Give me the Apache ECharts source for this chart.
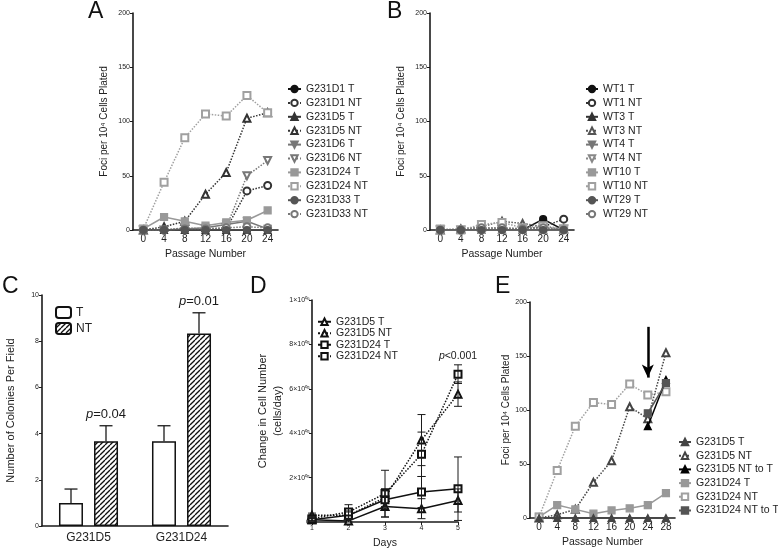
<!DOCTYPE html>
<html><head><meta charset="utf-8">
<script src="https://cdn.jsdelivr.net/npm/echarts@6/dist/echarts.min.js"></script>
<style>html,body{margin:0;padding:0;background:#fff}#c{width:778px;height:550px}</style>
</head><body><div id="c"></div><script>
// ---------- DATA ----------
const passA = ['0','4','8','12','16','20','24'];
const passE = ['0','4','8','12','16','20','24','28'];

// Panel A
const a_G231D1_T   = [0,0,0,0,0,0,0];
const a_G231D1_NT  = [0,0,1,0,1,36,41];
const a_G231D5_T   = [0,0,0,0,0,0,0];
const a_G231D5_NT  = [0,3,8,33,53,103,108];
const a_G231D6_T   = [0,0,1,2,5,8,1];
const a_G231D6_NT  = [0,0,2,1,2,50,64];
const a_G231D24_T  = [1,12,8,4,7,9,18];
const a_G231D24_NT = [1,44,85,107,105,124,108];
const a_G231D33_T  = [0,0,0,0,0,0,0];
const a_G231D33_NT = [0,0,1,1,2,3,2];

// Panel B
const b_WT1_T   = [0,0,0,0,0,10,0];
const b_WT1_NT  = [0,0,1,1,1,3,10];
const b_WT3_T   = [0,0,0,0,0,0,0];
const b_WT3_NT  = [0,1,3,8,6,3,1];
const b_WT4_T   = [0,0,0,0,0,0,0];
const b_WT4_NT  = [0,0,1,2,1,2,1];
const b_WT10_T  = [0,0,0,0,0,0,0];
const b_WT10_NT = [1,0,5,7,2,4,1];
const b_WT29_T  = [0,0,0,0,0,0,0];
const b_WT29_NT = [0,0,2,2,1,2,0];

// Panel C
const cCats = ['G231D5','G231D24'];
const cT = [1.0, 3.67];
const cTErr = [0.6, 0.67];
const cNT = [3.67, 8.33];
const cNTErr = [0.67, 0.9];
const cNTNotes = ['p=0.04', 'p=0.01'];

// Panel D
const dDays = [1,2,3,4,5];
const d_D5_T = [10000, 5000, 70000, 60000, 97000];
const d_D5_T_err = [5000, 10000, 48000, 45000, 52000];
const d_D5_NT = [30000, 30000, 110000, 369000, 576000];
const d_D5_NT_err = [10000, 15000, 40000, 115000, 55000];
const d_D24_T = [10000, 30000, 100000, 135000, 150000];
const d_D24_T_err = [5000, 20000, 40000, 70000, 143000];
const d_D24_NT = [15000, 45000, 128000, 305000, 666000];
const d_D24_NT_err = [10000, 33000, 105000, 100000, 42000];
const dNotes = ['', '', '', '', 'p<0.001'];

// Panel E
const e_G231D5_T = [0,0,0,0,0,0,0,0];
const e_G231D5_NT = [0,3,8,33,53,103,92,153];
const e_G231D5_NTtoT = [null,null,null,null,null,null,85,128];
const e_G231D24_T = [1,12,8,4,7,9,12,23];
const e_G231D24_NT = [1,44,85,107,105,124,114,117];
const e_G231D24_NTtoT = [null,null,null,null,null,null,97,125];
const eArrow = { at: '24', from: 177, to: 130 };

// ---------- STYLE ----------
const FONT = "'Liberation Sans', Arial, Helvetica, sans-serif";
const INK = '#1b1b1b';

function lineS(name, data, gi, sym, color, dash, rot, z) {
  return {
    type: 'line', name, data, xAxisIndex: gi, yAxisIndex: gi,
    symbol: sym, symbolSize: 7, symbolRotate: rot || 0, z: z || 2,
    lineStyle: { color, width: 1.5, type: dash ? 'dotted' : 'solid' },
    itemStyle: { color, borderColor: color, borderWidth: 1.2 },
    emphasis: { disabled: true }, connectNulls: false
  };
}

function errSeries(gi, vals, errs, opts) {
  const o = opts || {};
  return {
    type: 'custom', xAxisIndex: gi, yAxisIndex: gi, z: 5, silent: true,
    data: vals.map((v, i) => [o.xs ? o.xs[i] : i, v, errs[i]]),
    renderItem: function (params, api) {
      const x = api.value(0), v = api.value(1), e = api.value(2);
      const dx = o.dx || 0, hw = o.cap / 2;
      const top = api.coord([x, v + e]);
      const bot = api.coord([x, o.upOnly ? v : Math.max(0, v - e)]);
      const cx = top[0] + dx;
      const st = { stroke: INK, lineWidth: o.lw || 1 };
      const ch = [
        { type: 'line', shape: { x1: cx, y1: top[1], x2: cx, y2: bot[1] }, style: st },
        { type: 'line', shape: { x1: cx - hw, y1: top[1], x2: cx + hw, y2: top[1] }, style: st }
      ];
      if (!o.upOnly) ch.push({ type: 'line', shape: { x1: cx - hw, y1: bot[1], x2: cx + hw, y2: bot[1] }, style: st });
      const note = o.notes ? o.notes[params.dataIndex] : '';
      if (note) {
        ch.push({ type: 'text', style: {
          text: '{i|p}' + note.slice(1), x: cx, y: top[1] - o.noteGap,
          align: 'center', verticalAlign: 'bottom', fill: INK,
          fontSize: o.noteSize, fontFamily: FONT,
          rich: { i: { fontStyle: 'italic', fontSize: o.noteSize, fontFamily: FONT, fill: INK } }
        } });
      }
      return { type: 'group', children: ch };
    }
  };
}

// hatch pattern for NT bars
const pc = document.createElement('canvas');
pc.width = 5; pc.height = 5;
(function () {
  const c = pc.getContext('2d');
  c.fillStyle = '#fff'; c.fillRect(0, 0, 5, 5);
  c.strokeStyle = '#111'; c.lineWidth = 1.3;
  for (const o of [-5, 0, 5]) { c.beginPath(); c.moveTo(o, 5); c.lineTo(o + 5, 0); c.stroke(); }
})();
const hatch = { image: pc, repeat: 'repeat' };

function axisCommon(extra) {
  const base = {
    axisLine: { show: true, onZero: false, lineStyle: { color: INK, width: 1.6 } },
    axisTick: { show: true, length: 3, lineStyle: { color: INK, width: 1 } },
    splitLine: { show: false },
    axisLabel: { color: '#222', fontFamily: FONT },
    nameTextStyle: { color: '#222', fontFamily: FONT },
    nameLocation: 'middle'
  };
  for (const k in extra) {
    if (typeof extra[k] === 'object' && !Array.isArray(extra[k]) && base[k]) base[k] = Object.assign({}, base[k], extra[k]);
    else base[k] = extra[k];
  }
  return base;
}

const sup = { '0':'⁰','1':'¹','2':'²','3':'³','4':'⁴','5':'⁵','6':'⁶','7':'⁷','8':'⁸','9':'⁹' };
function sciLabel(v) {
  if (v === 0) return '0';
  const ex = Math.floor(Math.log10(v) + 1e-9);
  const m = Math.round(v / Math.pow(10, ex));
  const es = String(ex).padStart(2, '0').split('').map(c => sup[c]).join('');
  return m + '×10' + es;
}

const legText = { fontSize: 10.5, fontFamily: FONT, color: '#222', lineHeight: 12 };
const strip = n => n.replace(/#.*/, '');

const series = [
  // Panel A
  lineS('G231D1 T', a_G231D1_T, 0, 'circle', '#111', false),
  lineS('G231D1 NT', a_G231D1_NT, 0, 'emptyCircle', '#333', true),
  lineS('G231D5 T', a_G231D5_T, 0, 'triangle', '#333', false),
  lineS('G231D5 NT', a_G231D5_NT, 0, 'emptyTriangle', '#333', true),
  lineS('G231D6 T', a_G231D6_T, 0, 'triangle', '#777', false, 180),
  lineS('G231D6 NT', a_G231D6_NT, 0, 'emptyTriangle', '#777', true, 180),
  lineS('G231D24 T', a_G231D24_T, 0, 'rect', '#999', false),
  lineS('G231D24 NT', a_G231D24_NT, 0, 'emptyRect', '#a0a0a0', true),
  lineS('G231D33 T', a_G231D33_T, 0, 'circle', '#555', false, 0, 4),
  lineS('G231D33 NT', a_G231D33_NT, 0, 'emptyCircle', '#777', true),
  // Panel B
  lineS('WT1 T#B', b_WT1_T, 1, 'circle', '#111', false),
  lineS('WT1 NT#B', b_WT1_NT, 1, 'emptyCircle', '#333', true),
  lineS('WT3 T#B', b_WT3_T, 1, 'triangle', '#333', false),
  lineS('WT3 NT#B', b_WT3_NT, 1, 'emptyTriangle', '#555', true),
  lineS('WT4 T#B', b_WT4_T, 1, 'triangle', '#777', false, 180),
  lineS('WT4 NT#B', b_WT4_NT, 1, 'emptyTriangle', '#888', true, 180),
  lineS('WT10 T#B', b_WT10_T, 1, 'rect', '#999', false),
  lineS('WT10 NT#B', b_WT10_NT, 1, 'emptyRect', '#a0a0a0', true),
  lineS('WT29 T#B', b_WT29_T, 1, 'circle', '#555', false, 0, 4),
  lineS('WT29 NT#B', b_WT29_NT, 1, 'emptyCircle', '#777', true),
  // Panel C
  { type: 'bar', name: 'T', data: cT, xAxisIndex: 2, yAxisIndex: 2, barWidth: 24, barGap: '46%',
    itemStyle: { color: '#fff', borderColor: '#111', borderWidth: 1.5 }, emphasis: { disabled: true } },
  { type: 'bar', name: 'NT', data: cNT, xAxisIndex: 2, yAxisIndex: 2, barWidth: 24, barGap: '46%',
    itemStyle: { color: hatch, borderColor: '#111', borderWidth: 1.5 }, emphasis: { disabled: true } },
  errSeries(2, cT, cTErr, { dx: -17.5, cap: 13, upOnly: true, lw: 1.3 }),
  errSeries(2, cNT, cNTErr, { dx: 17.5, cap: 13, upOnly: true, lw: 1.3, notes: cNTNotes, noteGap: 5, noteSize: 13 }),
  // Panel D
  lineS('G231D5 T#D', dDays.map((d, i) => [d, d_D5_T[i]]), 3, 'emptyTriangle', '#111', false),
  lineS('G231D5 NT#D', dDays.map((d, i) => [d, d_D5_NT[i]]), 3, 'emptyTriangle', '#111', true),
  lineS('G231D24 T#D', dDays.map((d, i) => [d, d_D24_T[i]]), 3, 'emptyRect', '#111', false),
  lineS('G231D24 NT#D', dDays.map((d, i) => [d, d_D24_NT[i]]), 3, 'emptyRect', '#111', true),
  errSeries(3, d_D5_T, d_D5_T_err, { xs: dDays, cap: 8 }),
  errSeries(3, d_D5_NT, d_D5_NT_err, { xs: dDays, cap: 8 }),
  errSeries(3, d_D24_T, d_D24_T_err, { xs: dDays, cap: 8 }),
  errSeries(3, d_D24_NT, d_D24_NT_err, { xs: dDays, cap: 8, notes: dNotes, noteGap: 3, noteSize: 10.5 }),
  // Panel E
  lineS('G231D5 T#E', e_G231D5_T, 4, 'triangle', '#444', false, 0, 4),
  lineS('G231D5 NT#E', e_G231D5_NT, 4, 'emptyTriangle', '#444', true),
  Object.assign(lineS('G231D5 NT to T#E', e_G231D5_NTtoT, 4, 'triangle', '#000', false, 0, 3), {
    markLine: { silent: true, symbol: ['none', 'arrow'], symbolSize: [9, 13],
      lineStyle: { color: '#000', width: 2.5, type: 'solid' }, label: { show: false },
      data: [[{ coord: [eArrow.at, eArrow.from] }, { coord: [eArrow.at, eArrow.to] }]] }
  }),
  lineS('G231D24 T#E', e_G231D24_T, 4, 'rect', '#999', false),
  lineS('G231D24 NT#E', e_G231D24_NT, 4, 'emptyRect', '#a0a0a0', true),
  lineS('G231D24 NT to T#E', e_G231D24_NTtoT, 4, 'rect', '#555', false, 0, 3)
];

const fociName = 'Foci per 10⁴ Cells Plated';

const option = {
  animation: false,
  backgroundColor: '#fff',
  textStyle: { fontFamily: FONT },
  grid: [
    { left: 133, top: 13, width: 145, height: 217 },
    { left: 430, top: 13, width: 144, height: 217 },
    { left: 42, top: 295, width: 186, height: 231 },
    { left: 312, top: 300, width: 146, height: 222 },
    { left: 530, top: 302, width: 145, height: 216 }
  ],
  xAxis: [
    axisCommon({ gridIndex: 0, type: 'category', data: passA, boundaryGap: true, name: 'Passage Number', nameGap: 19,
      nameTextStyle: { fontSize: 10.5 }, axisLabel: { fontSize: 10, margin: 4 }, axisTick: { alignWithLabel: true } }),
    axisCommon({ gridIndex: 1, type: 'category', data: passA, boundaryGap: true, name: 'Passage Number', nameGap: 19,
      nameTextStyle: { fontSize: 10.5 }, axisLabel: { fontSize: 10, margin: 4 }, axisTick: { alignWithLabel: true } }),
    axisCommon({ gridIndex: 2, type: 'category', data: cCats, boundaryGap: true,
      axisLabel: { fontSize: 12, margin: 6 }, axisTick: { show: false } }),
    axisCommon({ gridIndex: 3, type: 'value', min: 1, max: 5, interval: 1, name: 'Days', nameGap: 16,
      nameTextStyle: { fontSize: 10.5 }, axisLabel: { fontSize: 7, margin: 3 } }),
    axisCommon({ gridIndex: 4, type: 'category', data: passE, boundaryGap: true, name: 'Passage Number', nameGap: 19,
      nameTextStyle: { fontSize: 10.5 }, axisLabel: { fontSize: 10, margin: 4 }, axisTick: { alignWithLabel: true } })
  ],
  yAxis: [
    axisCommon({ gridIndex: 0, type: 'value', min: 0, max: 200, interval: 50, name: fociName, nameGap: 24,
      nameTextStyle: { fontSize: 10 }, axisLabel: { fontSize: 7, margin: 3 } }),
    axisCommon({ gridIndex: 1, type: 'value', min: 0, max: 200, interval: 50, name: fociName, nameGap: 24,
      nameTextStyle: { fontSize: 10 }, axisLabel: { fontSize: 7, margin: 3 } }),
    axisCommon({ gridIndex: 2, type: 'value', min: 0, max: 10, interval: 2, name: 'Number of Colonies Per Field', nameGap: 26,
      nameTextStyle: { fontSize: 11 }, axisLabel: { fontSize: 7, margin: 3 } }),
    axisCommon({ gridIndex: 3, type: 'value', min: 0, max: 1000000, interval: 200000,
      name: 'Change in Cell Number\n(cells/day)', nameGap: 27,
      nameTextStyle: { fontSize: 11, lineHeight: 15 }, axisLabel: { fontSize: 7, margin: 2, formatter: sciLabel } }),
    axisCommon({ gridIndex: 4, type: 'value', min: 0, max: 200, interval: 50, name: fociName, nameGap: 18,
      nameTextStyle: { fontSize: 10 }, axisLabel: { fontSize: 7, margin: 3 } })
  ],
  legend: [
    { orient: 'vertical', left: 287, top: 83, padding: 0, itemWidth: 13, itemHeight: 8, itemGap: 1.9, formatter: strip,
      textStyle: legText, selectedMode: false,
      data: ['G231D1 T','G231D1 NT','G231D5 T','G231D5 NT','G231D6 T','G231D6 NT','G231D24 T','G231D24 NT','G231D33 T','G231D33 NT'] },
    { orient: 'vertical', left: 585, top: 83, padding: 0, itemWidth: 12, itemHeight: 8, itemGap: 1.9, formatter: strip,
      textStyle: legText, selectedMode: false,
      data: ['WT1 T#B','WT1 NT#B','WT3 T#B','WT3 NT#B','WT4 T#B','WT4 NT#B','WT10 T#B','WT10 NT#B','WT29 T#B','WT29 NT#B'] },
    { orient: 'vertical', left: 55, top: 306, padding: 0, itemWidth: 15, itemHeight: 11, itemGap: 3, selectedMode: false,
      textStyle: { fontSize: 12, fontFamily: FONT, color: '#222', lineHeight: 12 }, data: ['T', 'NT'] },
    { orient: 'vertical', left: 317, top: 316, padding: 0, itemWidth: 13, itemHeight: 8, itemGap: 0, formatter: strip,
      textStyle: { fontSize: 10.5, fontFamily: FONT, color: '#222', lineHeight: 11.5 }, selectedMode: false,
      data: ['G231D5 T#D','G231D5 NT#D','G231D24 T#D','G231D24 NT#D'] },
    { orient: 'vertical', left: 678, top: 436, padding: 0, itemWidth: 12, itemHeight: 8, itemGap: 1.7, formatter: strip,
      textStyle: legText, selectedMode: false,
      data: ['G231D5 T#E','G231D5 NT#E','G231D5 NT to T#E','G231D24 T#E','G231D24 NT#E','G231D24 NT to T#E'] }
  ],
  graphic: [
    { type: 'text', left: 88, top: 0, style: { text: 'A', fontSize: 23, fontFamily: FONT, fill: '#111' } },
    { type: 'text', left: 387, top: 0, style: { text: 'B', fontSize: 23, fontFamily: FONT, fill: '#111' } },
    { type: 'text', left: 2, top: 275, style: { text: 'C', fontSize: 23, fontFamily: FONT, fill: '#111' } },
    { type: 'text', left: 250, top: 275, style: { text: 'D', fontSize: 23, fontFamily: FONT, fill: '#111' } },
    { type: 'text', left: 495, top: 275, style: { text: 'E', fontSize: 23, fontFamily: FONT, fill: '#111' } }
  ],
  series
};

const chart = echarts.init(document.getElementById('c'), null, { renderer: 'canvas' });
chart.setOption(option);
</script></body></html>
